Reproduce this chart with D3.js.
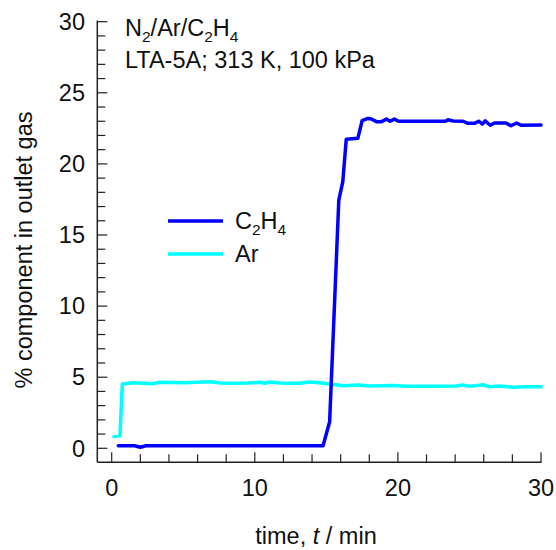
<!DOCTYPE html>
<html>
<head>
<meta charset="utf-8">
<script src="https://cdn.jsdelivr.net/npm/d3@7"></script>
<style>
  html, body { margin: 0; padding: 0; background: #fff; }
  svg { display: block; font-family: "Liberation Sans", Arial, Helvetica, sans-serif; }
</style>
</head>
<body>
<svg id="chart" width="556" height="550"></svg>
<script>
// Breakthrough of a N2/Ar/C2H4 mixture through LTA-5A
const timeC2H4 = [0.46, 1.6, 2.0, 2.4, 8.0, 14.77, 15.23, 15.87, 16.15, 16.39, 17.2, 17.5, 17.9, 18.1, 18.5, 18.85, 19.2, 19.45, 19.75, 20.05, 23.3, 23.5, 23.85, 24.55, 24.9, 25.35, 25.65, 25.9, 26.1, 26.45, 26.75, 27.55, 27.9, 28.3, 28.6, 30.0];
const valC2H4  = [0.18, 0.18, 0.07, 0.18, 0.18, 0.18, 1.87, 17.45, 18.75, 21.73, 21.8, 23.04, 23.2, 23.18, 22.97, 22.97, 23.15, 23.0, 23.15, 23.0, 23.0, 23.1, 23.02, 23.0, 22.85, 22.85, 23.0, 22.8, 23.02, 22.72, 22.88, 22.88, 22.68, 22.88, 22.72, 22.74];

const timeAr = [0.16, 0.58, 0.74, 1.5, 2.2, 2.9, 3.25, 5.0, 6.9, 7.6, 8.5, 9.5, 10.35, 10.7, 11.05, 11.75, 12.3, 13.1, 13.8, 14.5, 15.1, 16.2, 17.2, 18.0, 19.6, 20.6, 22.4, 24.1, 24.5, 25.0, 25.7, 25.95, 26.4, 27.1, 28.05, 29.0, 30.0];
const valAr  = [0.82, 0.9, 4.52, 4.61, 4.57, 4.54, 4.64, 4.61, 4.68, 4.59, 4.57, 4.59, 4.64, 4.57, 4.66, 4.59, 4.57, 4.57, 4.67, 4.61, 4.54, 4.4, 4.45, 4.38, 4.42, 4.36, 4.36, 4.38, 4.45, 4.36, 4.43, 4.47, 4.33, 4.38, 4.3, 4.33, 4.32];

const xMajorTicks = [0, 10, 20, 30];
const yMajorTicks = [0, 5, 10, 15, 20, 25, 30];
const xLabel = "time, ";
const yLabel = "% component in outlet gas";

const svg = d3.select("#chart");
const FS = 23.5;
const axisColor = "#222";

const x = d3.scaleLinear().domain([0, 30]).range([111.7, 541]);
const y = d3.scaleLinear().domain([0, 30]).range([448.3, 21.7]);
const axisX0 = 97.3, axisY0 = 462.3;

// axis lines
svg.append("line").attr("x1", axisX0).attr("x2", axisX0).attr("y1", 20.5).attr("y2", axisY0)
  .attr("stroke", axisColor).attr("stroke-width", 1.5);
svg.append("line").attr("x1", axisX0).attr("x2", x(30) + 0.5).attr("y1", axisY0).attr("y2", axisY0)
  .attr("stroke", axisColor).attr("stroke-width", 1.5);

// y ticks (inward), minor every 1
const yTicks = d3.range(0, 31, 1);
svg.append("g").selectAll("line").data(yTicks).join("line")
  .attr("x1", axisX0).attr("x2", d => axisX0 + (d % 5 === 0 ? 10 : 8))
  .attr("y1", d => y(d)).attr("y2", d => y(d))
  .attr("stroke", axisColor).attr("stroke-width", 1.2);
svg.append("g").selectAll("text").data(yMajorTicks).join("text")
  .attr("x", 85).attr("y", d => y(d)).attr("dy", "0.35em")
  .attr("text-anchor", "end").attr("font-size", FS).attr("fill", "#111")
  .text(d => d);

// x ticks (inward), minor every 2
const xTicks = d3.range(0, 31, 2);
svg.append("g").selectAll("line").data(xTicks).join("line")
  .attr("x1", d => x(d)).attr("x2", d => x(d))
  .attr("y1", axisY0).attr("y2", d => axisY0 - (d % 10 === 0 ? 10 : 8))
  .attr("stroke", axisColor).attr("stroke-width", 1.2);
svg.append("g").selectAll("text").data(xMajorTicks).join("text")
  .attr("x", d => x(d)).attr("y", 496)
  .attr("text-anchor", "middle").attr("font-size", FS).attr("fill", "#111")
  .text(d => d);

// axis titles
const xt = svg.append("text").attr("x", 316).attr("y", 544)
  .attr("text-anchor", "middle").attr("font-size", FS).attr("fill", "#111");
xt.append("tspan").text(xLabel);
xt.append("tspan").attr("font-style", "italic").text("t");
xt.append("tspan").text(" / min");

svg.append("text")
  .attr("transform", "translate(32,250) rotate(-90)")
  .attr("text-anchor", "middle").attr("font-size", FS).attr("fill", "#111")
  .text(yLabel);

// chemical formula with subscripts
function formula(sel, parts) {
  parts.forEach(p => {
    if (p.sub) {
      sel.append("tspan").attr("font-size", FS * 0.66).attr("dy", 6).text(p.t);
    } else {
      const t = sel.append("tspan").text(p.t);
      if (p.up) t.attr("dy", -6);
    }
  });
}

const title1 = svg.append("text").attr("x", 125).attr("y", 36).attr("font-size", FS).attr("fill", "#111");
formula(title1, [{t: "N"}, {t: "2", sub: true}, {t: "/Ar/C", up: true}, {t: "2", sub: true}, {t: "H", up: true}, {t: "4", sub: true}]);
svg.append("text").attr("x", 125).attr("y", 68).attr("font-size", FS).attr("fill", "#111")
  .text("LTA-5A; 313 K, 100 kPa");

// series lines
const lineGen = (ts, vs) => d3.line().x((d, i) => x(ts[i])).y((d, i) => y(vs[i]))(ts);
svg.append("path").attr("d", lineGen(timeAr, valAr))
  .attr("fill", "none").attr("stroke", "#00ffff").attr("stroke-width", 3.5)
  .attr("stroke-linejoin", "round").attr("stroke-linecap", "round");
svg.append("path").attr("d", lineGen(timeC2H4, valC2H4))
  .attr("fill", "none").attr("stroke", "#0000ff").attr("stroke-width", 3.5)
  .attr("stroke-linejoin", "round").attr("stroke-linecap", "round");

// legend
const legend = [
  {color: "#0000ff", parts: [{t: "C"}, {t: "2", sub: true}, {t: "H", up: true}, {t: "4", sub: true}], yy: 221},
  {color: "#00ffff", parts: [{t: "Ar"}], yy: 254}
];
legend.forEach(l => {
  svg.append("line").attr("x1", 168).attr("x2", 223).attr("y1", l.yy).attr("y2", l.yy)
    .attr("stroke", l.color).attr("stroke-width", 3.5);
  const t = svg.append("text").attr("x", 235).attr("y", l.yy + 8).attr("font-size", FS).attr("fill", "#111");
  formula(t, l.parts);
});
</script>
</body>
</html>
